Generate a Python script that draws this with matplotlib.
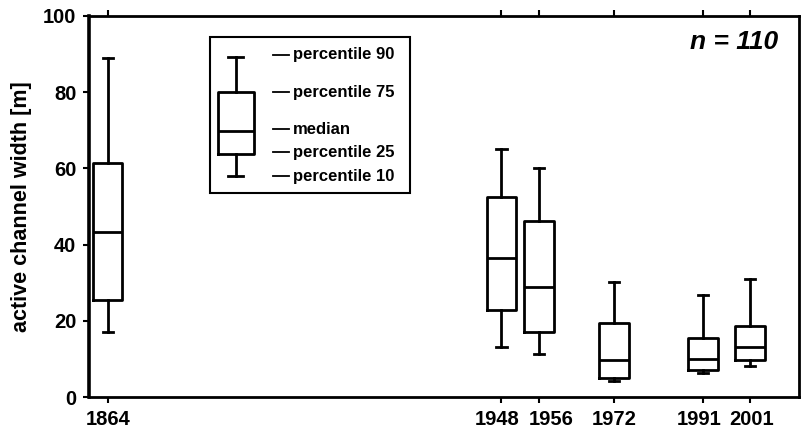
import matplotlib
matplotlib.use("Agg")
import matplotlib.pyplot as plt
from matplotlib.patches import Rectangle
from matplotlib.transforms import ScaledTranslation

plt.rcParams['font.family'] = ['Liberation Sans', 'DejaVu Sans']
plt.rcParams['font.weight'] = 'bold'

# active channel width per survey year (percentiles 10/25/50/75/90)
years = [1864, 1948, 1956, 1972, 1991, 2001]
p10 = [17.0, 13.0, 11.2, 4.2, 6.2, 8.2]
p25 = [25.5, 22.8, 17.1, 4.9, 7.1, 9.7]
med = [43.4, 36.4, 29.0, 9.7, 9.9, 13.0]
p75 = [61.3, 52.6, 46.3, 19.3, 15.4, 18.6]
p90 = [89.1, 65.0, 60.0, 30.3, 26.7, 30.9]

# legend sample box
leg_vals = [58.0, 63.8, 69.8, 80.0, 89.2]
leg_labels = ["percentile 10", "percentile 25", "median", "percentile 75", "percentile 90"]
leg_label_y = [58.0, 64.3, 70.3, 80.0, 89.8]

fig = plt.figure(figsize=(8.01, 4.30), dpi=100)
ax = fig.add_axes([0.111, 0.0767, 0.8865, 0.8861])

lw = 2.0
props = dict(boxprops=dict(color='black', linewidth=lw),
             whiskerprops=dict(color='black', linewidth=lw),
             capprops=dict(color='black', linewidth=lw),
             medianprops=dict(color='black', linewidth=lw))

stats = []
for y, a, b, c, d, e in zip(years, p10, p25, med, p75, p90):
    stats.append(dict(whislo=a, q1=b, med=c, q3=d, whishi=e, fliers=[]))
ax.bxp(stats, positions=years, widths=6.3, showfliers=False,
       manage_ticks=False, capwidths=2.2, **props)

# legend
ax.add_patch(Rectangle((1885.8, 53.5), 42.6, 41.0, fill=False,
                       edgecolor='black', linewidth=1.5, zorder=3))
ax.bxp([dict(whislo=leg_vals[0], q1=leg_vals[1], med=leg_vals[2],
             q3=leg_vals[3], whishi=leg_vals[4], fliers=[])],
       positions=[1891.3], widths=7.7, showfliers=False,
       manage_ticks=False, capwidths=3.2, **props)
for lab, ly in zip(leg_labels, leg_label_y):
    ax.plot([1899.3, 1902.6], [ly, ly], color='black', linewidth=1.3)
    ax.text(1903.6, ly, lab, fontsize=12, fontweight='bold',
            va='center', ha='left')

ax.text(0.97, 0.932, "n = 110", transform=ax.transAxes, fontsize=19,
        fontweight='bold', style='italic', ha='right', va='center')

ax.set_xlim(1860, 2011.5)
ax.set_ylim(0, 100)
ax.set_xticks(years)
ax.set_xticklabels([str(y) for y in years])
ax.set_yticks([0, 20, 40, 60, 80, 100])
ax.tick_params(axis='both', labelsize=14.5, width=1.5, length=4, direction='out')
ax.tick_params(axis='x', top=True, pad=5)
ax.tick_params(axis='y', pad=5)
for lab in ax.get_xticklabels() + ax.get_yticklabels():
    lab.set_fontweight('bold')

# nudge the crowded year labels apart
shift = {1948: -4, 1956: 12, 1991: -4, 2001: 2}
for lab, y in zip(ax.get_xticklabels(), years):
    if y in shift:
        lab.set_transform(lab.get_transform() +
                          ScaledTranslation(shift[y] / 100, 0, fig.dpi_scale_trans))

for s in ax.spines.values():
    s.set_linewidth(2.0)
ax.spines['left'].set_linewidth(2.6)
ax.set_ylabel("active channel width [m]", fontsize=15.5, fontweight='bold', labelpad=8)

fig.savefig("out.png", dpi=100)
